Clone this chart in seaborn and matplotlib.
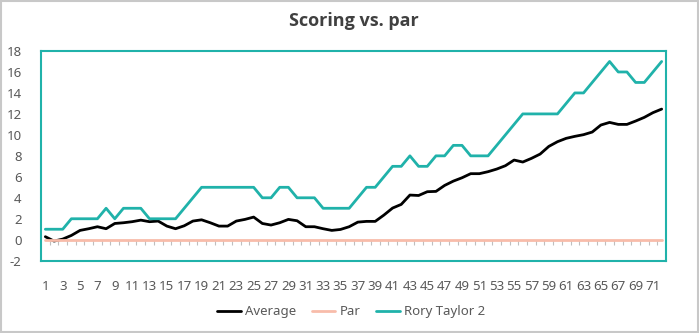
import numpy as np
import pandas as pd
import matplotlib
matplotlib.use("Agg")
import matplotlib.pyplot as plt
import seaborn as sns

holes = list(range(1, 73))
average = [0.29, -0.13, 0.06, 0.41, 0.89, 1.05, 1.24, 1.05, 1.55, 1.62,
           1.72, 1.87, 1.72, 1.78, 1.30, 1.05, 1.33, 1.78, 1.90, 1.62,
           1.30, 1.30, 1.78, 1.94, 2.16, 1.55, 1.40, 1.62, 1.94, 1.81,
           1.24, 1.24, 1.05, 0.89, 0.98, 1.24, 1.68, 1.75, 1.75, 2.35,
           3.02, 3.37, 4.26, 4.22, 4.58, 4.61, 5.18, 5.59, 5.91, 6.30,
           6.30, 6.49, 6.74, 7.06, 7.60, 7.41, 7.76, 8.17, 8.90, 9.35,
           9.67, 9.86, 10.02, 10.27, 10.94, 11.19, 11.00, 11.00, 11.32, 11.67, 12.12, 12.46]
par = [0] * 72
rory = [1, 1, 1, 2, 2, 2, 2, 3, 2, 3,
        3, 3, 2, 2, 2, 2, 3, 4, 5, 5,
        5, 5, 5, 5, 5, 4, 4, 5, 5, 4,
        4, 4, 3, 3, 3, 3, 4, 5, 5, 6,
        7, 7, 8, 7, 7, 8, 8, 9, 9, 8,
        8, 8, 9, 10, 11, 12, 12, 12, 12, 12,
        13, 14, 14, 15, 16, 17, 16, 16, 15, 15, 16, 17]
series_names = ["Average", "Par", "Rory Taylor 2"]
yticks = list(range(-2, 19, 2))
xtick_labels = [str(h) for h in holes if h % 2 == 1]

df = pd.DataFrame({
    "Hole": holes * 3,
    "Score": average + par + rory,
    "Series": [series_names[0]] * 72 + [series_names[1]] * 72 + [series_names[2]] * 72,
})

sns.set_theme(style="white")
plt.rcParams["font.family"] = ["Noto Sans", "DejaVu Sans"]

TEAL = "#20B2AA"
palette = {"Average": "#000000", "Par": "#F8BCAA", "Rory Taylor 2": TEAL}

fig = plt.figure(figsize=(6.99, 3.33), dpi=100)
ax = fig.add_axes([41 / 699, 1 - 260.7 / 333, 625 / 699, 209.7 / 333])

sns.lineplot(data=df, x="Hole", y="Score", hue="Series", palette=palette,
             hue_order=series_names, linewidth=2.0, ax=ax, legend=True)

ax.set_xlim(0.5, 72.5)
ax.set_ylim(-2, 18)
ax.set_yticks(yticks)
ax.set_yticklabels([str(v) for v in yticks])
ax.set_xticks([h for h in holes if h % 2 == 1])
ax.set_xticklabels(xtick_labels)
ax.tick_params(axis="both", length=0, labelsize=9.5, labelcolor="#595959")
ax.tick_params(axis="y", pad=14)
ax.tick_params(axis="x", pad=14)
ax.set_xlabel("")
ax.set_ylabel("")
for s in ax.spines.values():
    s.set_visible(True)
    s.set_color(TEAL)
    s.set_linewidth(1.5)

# category tick marks on the zero line
sec = ax.secondary_xaxis(0.1)
sec.spines["bottom"].set_visible(False)
sec.set_xticks([h + 0.5 for h in holes[:-1]])
sec.set_xticklabels([])
sec.tick_params(axis="x", direction="out", length=3.5, width=0.8, color="#BFBFBF")

ax.set_title("Scoring vs. par", fontsize=13, fontweight="bold", color="#404040", pad=18,
             family=["Open Sans", "DejaVu Sans"])

handles, labels = ax.get_legend_handles_labels()
ax.legend(handles, labels, loc="center", bbox_to_anchor=(351 / 699, 1 - 311.7 / 333),
          bbox_transform=fig.transFigure, ncol=3, frameon=False, fontsize=9.5,
          handlelength=1.8, handletextpad=0.3, columnspacing=1.2, labelcolor="#595959")

fig.patches.append(matplotlib.patches.Rectangle((0.001, 0.002), 0.997, 0.995, transform=fig.transFigure,
                                                fill=False, edgecolor="#C8C8C8", linewidth=1.5))

fig.savefig("out.png", dpi=100, facecolor="white")
